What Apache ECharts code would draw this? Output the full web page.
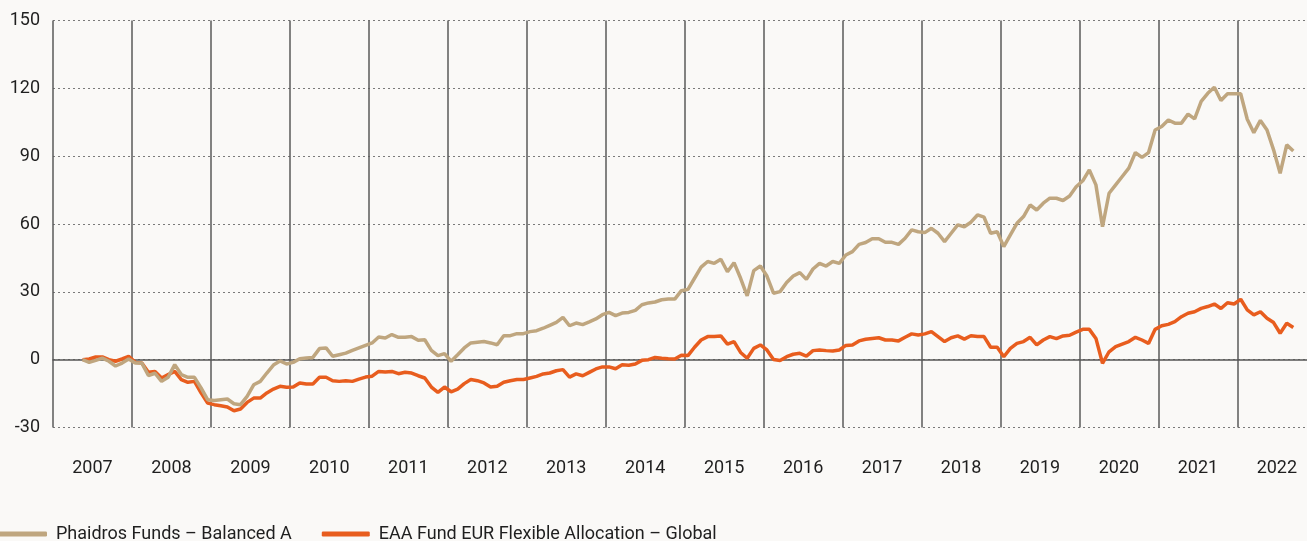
<!DOCTYPE html>
<html>
<head>
<meta charset="utf-8">
<script src="https://cdn.jsdelivr.net/npm/echarts@6/dist/echarts.min.js"></script>
<style>
  html, body { margin: 0; padding: 0; background: #faf9f7; }
  #container { width: 1307px; height: 541px; }
</style>
</head>
<body>
<div id="container"></div>
<script>
var dom = document.getElementById("container");
var myChart = echarts.init(dom);

// monthly series, first point in May 2007 (months counted from Jan 2007)
var startMonth = 4.5;
var yearLabels = ['2007', '2008', '2009', '2010', '2011', '2012', '2013', '2014',
  '2015', '2016', '2017', '2018', '2019', '2020', '2021', '2022'];
var yTicks = [-30, 0, 30, 60, 90, 120, 150];

var phaidros = [
  0, -1.2, -0.3, 0.7, -0.7, -2.8, -1.5, 0.3, -1.5, -1.5,
  -7, -6, -9.6, -7.8, -2.2, -6.6, -7.8, -7.8, -12.5, -17.7,
  -18.1, -17.7, -17.4, -19.5, -19.9, -16.2, -11.1, -9.6, -5.9, -2.4,
  -0.6, -1.9, -1.2, 0.4, 0.7, 1.0, 4.9, 5.2, 1.5, 2.2,
  2.9, 4.1, 5.2, 6.3, 7.4, 10.0, 9.6, 11.1, 9.9, 9.9,
  10.2, 8.6, 8.8, 4.1, 1.8, 2.7, -0.7, 2.2, 5.2, 7.4,
  7.7, 8.0, 7.4, 6.6, 10.6, 10.6, 11.5, 11.5, 12.4, 12.8,
  13.9, 15.2, 16.5, 18.7, 15.0, 16.2, 15.5, 16.7, 18.0, 19.9,
  20.9, 19.5, 20.6, 20.9, 21.8, 24.3, 25.1, 25.5, 26.5, 26.8,
  26.8, 30.5, 31.1, 36, 40.9, 43.4, 42.6, 44.4, 38.9, 42.9,
  36, 28.2, 39.4, 41.4, 37, 29.4, 30.1, 34.1, 37, 38.5,
  35.5, 40.1, 42.6, 41.4, 43.4, 42.6, 46.3, 47.8, 51, 51.8,
  53.5, 53.5, 51.9, 51.9, 51, 53.7, 57.4, 56.6, 56.2, 58.1,
  55.9, 52.2, 55.9, 59.6, 58.8, 60.8, 64, 63, 55.9, 56.6,
  50.0, 55.2, 60.3, 63.3, 68.4, 66.2, 69.2, 71.4, 71.4, 70.4,
  72.4, 76.5, 79.1, 83.9, 77.3, 58.8, 73.6, 77.3, 81.0, 84.7,
  91.6, 89.5, 91.6, 101.6, 103.1, 106, 104.6, 104.6, 108.6, 106.5,
  114.2, 117.8, 120.5, 114.6, 117.6, 117.6, 117.6, 106.3, 100.4, 105.8,
  101.6, 92.8, 82.4, 95, 92.3
];

var eaaFlex = [
  0, 0.3, 1.2, 1.2, 0, -0.7, 0.3, 1.5, -1.2, -1.5,
  -5.6, -5.2, -8.1, -6.6, -5.2, -8.8, -10, -9.6, -14.7, -19.2,
  -19.9, -20.4, -20.9, -22.6, -21.8, -18.9, -17, -17, -14.7, -13,
  -11.8, -12.2, -12.1, -10.3, -10.8, -10.8, -7.8, -7.8, -9.3, -9.6,
  -9.3, -9.6, -8.6, -7.7, -7.3, -5.2, -5.5, -5.2, -6.2, -5.6,
  -5.9, -7.1, -8.1, -12.1, -14.5, -12.1, -14.2, -13, -10.6, -8.8,
  -9.3, -10.3, -12.1, -11.8, -10.0, -9.3, -8.8, -8.8, -8.1, -7.4,
  -6.3, -5.9, -4.9, -4.4, -7.7, -6.3, -7.1, -5.6, -4.1, -3.2,
  -3.2, -4.0, -2.2, -2.5, -1.9, -0.3, 0, 1.0, 0.6, 0.4,
  0.3, 2.0, 1.8, 5.5, 8.7, 10.2, 10.2, 10.5, 6.9, 8.0,
  3.2, 0.6, 5.0, 6.5, 4.3, 0.1, -0.4, 1.3, 2.4, 2.8,
  1.6, 4.0, 4.3, 4.0, 3.8, 4.3, 6.3, 6.5, 8.3, 9.0,
  9.4, 9.7, 8.7, 8.7, 8.3, 9.9, 11.4, 10.9, 11.4, 12.4,
  10.2, 8.0, 9.7, 10.5, 9.1, 10.6, 10.2, 10.2, 5.5, 5.5,
  1.3, 5.0, 7.2, 8.0, 9.9, 6.5, 8.7, 10.2, 9.3, 10.5,
  10.8, 12.2, 13.4, 13.4, 9.4, -1.6, 3.5, 5.8, 6.9, 8.0,
  9.9, 8.7, 7.2, 13.4, 15.0, 15.6, 16.8, 19.0, 20.5, 21.2,
  22.7, 23.5, 24.6, 22.6, 25.2, 24.6, 26.7, 22.0, 19.8, 21.2,
  18.3, 16.4, 11.7, 16.1, 14.2
];

function toPoints(values) {
  return values.map(function (v, i) { return [startMonth + i, v]; });
}

var xMax = 192.1;
var textColor = '#1f1f1f';

var option = {
  animation: false,
  backgroundColor: '#faf9f7',
  textStyle: { fontFamily: 'Roboto' },
  grid: { left: 53, width: 1264, top: 20.5, height: 407, outerBoundsMode: 'none' },
  legend: {
    data: ['Phaidros Funds – Balanced A', 'EAA Fund EUR Flexible Allocation – Global'],
    left: -1,
    top: 525,
    padding: 0,
    itemWidth: 48,
    itemHeight: 5,
    itemGap: 30,
    icon: 'roundRect',
    textStyle: { fontSize: 18, color: textColor, fontFamily: 'Roboto', padding: [0, 0, 0, 4] }
  },
  xAxis: [
    {
      type: 'value',
      min: 0,
      max: xMax,
      interval: 12,
      axisLine: { show: true, onZero: true, lineStyle: { color: '#555', width: 1.5 } },
      axisTick: { show: false },
      axisLabel: { show: false },
      splitLine: { show: true, lineStyle: { color: '#5a5a5a', width: 1.5 } }
    },
    {
      type: 'value',
      min: 0,
      max: xMax,
      interval: 6,
      position: 'bottom',
      axisLine: { show: false, onZero: false },
      axisTick: { show: false },
      splitLine: { show: false },
      axisLabel: {
        margin: 32,
        fontSize: 18,
        color: textColor,
        fontFamily: 'Roboto',
        formatter: function (v) {
          if (v % 12 !== 6) return '';
          var k = (v - 6) / 12;
          return yearLabels[k] || '';
        }
      }
    }
  ],
  yAxis: {
    type: 'value',
    min: yTicks[0],
    max: yTicks[yTicks.length - 1],
    interval: 30,
    axisLine: { show: false },
    axisTick: { show: false },
    axisLabel: { fontSize: 18, color: textColor, margin: 13, fontFamily: 'Roboto' },
    splitLine: { show: true, lineStyle: { color: '#7a7a7a', type: [2, 3], width: 1.2 } }
  },
  series: [
    {
      name: 'EAA Fund EUR Flexible Allocation – Global',
      type: 'line',
      xAxisIndex: 0,
      showSymbol: false,
      color: '#e85d1e',
      lineStyle: { width: 3.5, color: '#e85d1e' },
      data: toPoints(eaaFlex)
    },
    {
      name: 'Phaidros Funds – Balanced A',
      type: 'line',
      xAxisIndex: 0,
      showSymbol: false,
      color: '#bfa67f',
      lineStyle: { width: 3.5, color: '#bfa67f' },
      data: toPoints(phaidros)
    }
  ]
};

if (option && typeof option === 'object') {
  myChart.setOption(option);
}
</script>
</body>
</html>
